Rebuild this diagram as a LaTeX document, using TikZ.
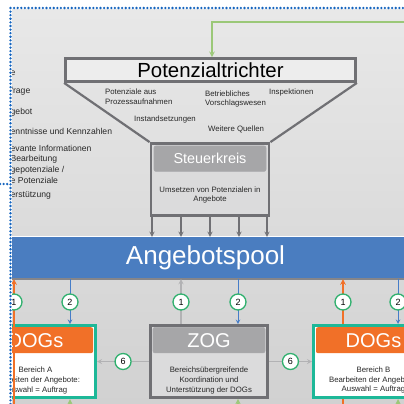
\documentclass[tikz,border=0pt]{standalone}
\usepackage{fontspec}
\setmainfont{Liberation Sans}
\usetikzlibrary{positioning,calc}
\definecolor{framegray}{RGB}{112,112,116}
\definecolor{headgray}{RGB}{166,166,168}
\definecolor{bodygray}{RGB}{219,219,220}
\definecolor{poolblue}{RGB}{74,125,192}
\definecolor{dogorange}{RGB}{241,112,40}
\definecolor{dogteal}{RGB}{29,184,152}
\definecolor{numgreen}{RGB}{48,176,110}
\definecolor{arrgreen}{RGB}{155,200,120}
\definecolor{arrblue}{RGB}{70,125,200}
\definecolor{arrgray}{RGB}{178,178,180}
\definecolor{dotblue}{RGB}{20,100,190}
\definecolor{txtgray}{RGB}{40,40,40}
\newcommand{\pxfont}[2]{\fontsize{#1}{#2}\selectfont}

\begin{document}
\begin{tikzpicture}[x=1pt,y=-1pt,
    frame/.style={draw=framegray,line width=2.8pt,fill=bodygray,inner sep=0pt,
      minimum width=118pt,minimum height=72pt},
    head/.style={rounded corners=2pt,fill=headgray,draw=framegray!60,line width=.6pt,
      text=white,inner sep=0pt,minimum width=112pt,minimum height=25.5pt},
    dogframe/.style={draw=dogteal,line width=3pt,fill=white,inner sep=0pt,
      minimum width=120pt,minimum height=72pt},
    doghead/.style={rounded corners=2pt,fill=dogorange,text=white,inner sep=0pt,
      minimum width=115pt,minimum height=26pt,font=\pxfont{20}{20}},
    small/.style={align=center,text=txtgray,inner sep=0pt,font=\pxfont{7.8}{9.7}},
    src/.style={anchor=west,align=left,text=txtgray,inner sep=0pt,font=\pxfont{7.8}{9.8}},
    lst/.style={anchor=west,align=left,text=txtgray,inner sep=0pt,font=\pxfont{8.6}{10.2}},
    num/.style={circle,draw=numgreen,fill=white,line width=1.3pt,minimum size=16pt,
      inner sep=0pt,font=\pxfont{9}{9}}]
 \useasboundingbox (0,0) rectangle (404,404);
 \begin{scope}
  \clip (12,9.5) rectangle (404,404);
  \fill[top color=black!9,bottom color=black!18] (12,9.5) rectangle (404,404);
  % left list
  \node[lst] (l1) at (10.5,73) {e};
  \node[lst] (l2) at (10.5,91) {frage};
  \node[lst] (l3) at (10.5,112) {gebot};
  \node[lst] (l4) at (10.5,131) {enntnisse und Kennzahlen};
  \node[lst] (l5) at (10.5,154) {evante Informationen\\ Bearbeitung};
  \node[lst] (l6) at (10.5,175) {gepotenziale /\\e Potenziale};
  \node[lst] (l7) at (10.5,195) {erstützung};
  % funnel
  \node[draw=framegray,line width=2.8pt,fill=black!7,minimum width=290pt,minimum height=23pt,
    inner sep=0pt,font=\pxfont{20.4}{20.4}] (PT) at (210.5,70) {Potenzialtrichter};
  \node[frame] (SK) at (210,179.5) {};
  \node[head,below=3.5pt of SK.north,font=\pxfont{14.4}{14.4}] (SKh) {Steuerkreis};
  \node[small] (SKt) at ($(SK.center)+(0,15.5)$) {Umsetzen von Potenzialen in\\Angebote};
  \draw[framegray,line width=2.2pt] (PT.south west) -- (SK.north west)
    (PT.south east) -- (SK.north east);
  \node[src] (q1) at (105,97) {Potenziale aus\\Prozessaufnahmen};
  \node[src] (q2) at (134,119) {Instandsetzungen};
  \node[src] (q3) at (205,99) {Betriebliches\\Vorschlagswesen};
  \node[src] (q4) at (269,92) {Inspektionen};
  \node[src] (q5) at (208,129) {Weitere Quellen};
  \coordinate (gs) at (410,22);
  \draw[-stealth,arrgreen,line width=1.5pt] (gs) -| (212,0 |- PT.north);
  % pool
  \node[fill=poolblue,text=white,minimum width=820pt,minimum height=42pt,inner sep=0pt,
    font=\pxfont{26}{26}] (AP) at (205.5,258) {Angebotspool};
  \draw[white,line width=1pt] (AP.north west) -- (AP.north east);
  \draw[framegray!85,line width=1.8pt] (AP.south west) -- (AP.south east);
  \path[-stealth,framegray,line width=1.3pt] foreach \X in {152,181,210,239,267}
    {(\X,0 |- SK.south) edge (\X,0 |- AP.north)};
  % lower boxes
  \node[frame,minimum width=117pt] (ZG) at (209,361.5) {};
  \node[dogframe] (DA) at (35.5,361.5) {};
  \node[dogframe] (DB) at (373.5,361.5) {};
  \coordinate (oA) at (14,410);
  \coordinate (oB) at (343,410);
  \draw[-stealth,dogorange,line width=1.5pt] (oB) -- (oB |- AP.south);
  \node[head,below=3pt of ZG.north,font=\pxfont{20}{20}] (ZGh) {ZOG};
  \node[small] (ZGt) at ($(ZG.center)+(0,19)$) {Bereichsübergreifende\\Koordination und\\Unterstützung der DOGs};
  \node[dogframe] at (DB) {};
  \node[doghead,below=3pt of DA.north] (DAh) {DOGs};
  \node[doghead,below=3pt of DB.north] (DBh) {DOGs};
  \node[small] (DAt) at ($(DA.center)+(0,19)$) {Bereich A\\Bearbeiten der Angebote:\\Auswahl = Auftrag};
  \node[small] (DBt) at ($(DB.center)+(0,18.5)$) {Bereich B\\Bearbeiten der Angebote:\\Auswahl = Auftrag};
  % connectors
  \draw[-stealth,dogorange,line width=1.5pt] (oA) -- (oA |- AP.south);
  \foreach \X/\B in {70/DA,238/ZG,398/DB} {
    \draw[-stealth,arrblue,line width=1pt] (\X,0 |- AP.south) -- (\X,0 |- \B.north);
    \draw[-stealth,arrgreen,line width=1.5pt] (\X,410) -- (\X,0 |- \B.south);
  }
  \draw[-stealth,arrgray,line width=1.2pt] (181,0 |- ZG.north) -- (181,0 |- AP.south);
  \draw[-stealth,arrgray,line width=1.2pt] (ZG.west) -- (DA.east);
  \draw[-stealth,arrgray,line width=1.2pt] (ZG.east) -- (DB.west);
  % numbers
  \node[num] (n1a) at (14,302) {1};
  \node[num] (n2a) at (70,302) {2};
  \node[num] (n1z) at (181,302) {1};
  \node[num] (n2z) at (238,302) {2};
  \node[num] (n1b) at (343,302) {1};
  \node[num] (n2b) at (398,302) {2};
  \node[num] (n6a) at ($(ZG.west)!.5!(DA.east)$) {6};
  \node[num] (n6b) at ($(ZG.east)!.5!(DB.west)$) {6};
 \end{scope}
 \draw[dotblue,line width=2.6pt,line cap=round,dash pattern=on 0pt off 3.6pt]
   (10.5,404) -- (10.5,8) -- (404,8) (0,184) -- (10.5,184);
\end{tikzpicture}
\end{document}
